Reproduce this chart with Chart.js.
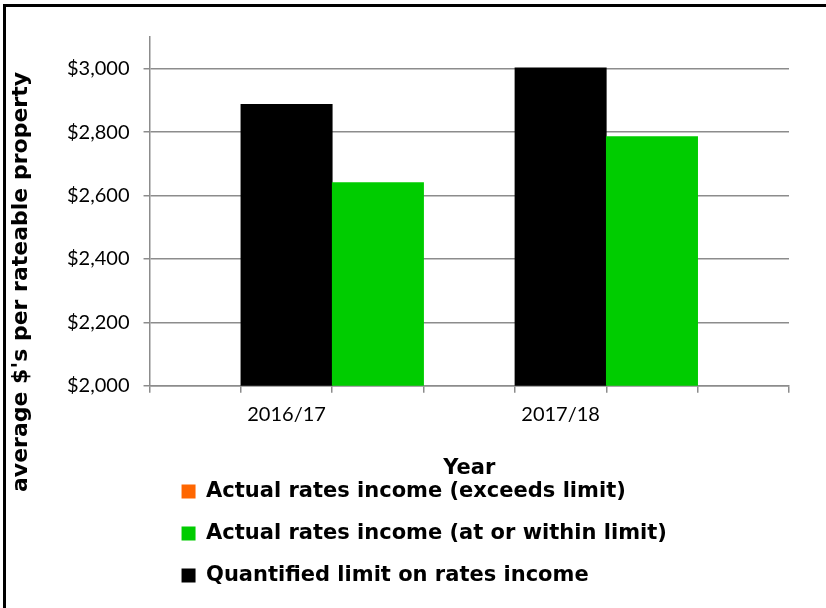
<!DOCTYPE html>
<html>
<head>
<meta charset="utf-8">
<script src="https://cdn.jsdelivr.net/npm/chart.js@4"></script>
<style>
    html, body { margin: 0; padding: 0; background: #fff; }
    #wrap { position: relative; width: 826px; height: 608px; overflow: hidden; }
    #frame { position: absolute; left: 3px; top: 4px; right: -10px; bottom: -10px; border-left: 3px solid #000; border-top: 3px solid #000; pointer-events: none; }
</style>
</head>
<body>
<div id="wrap">
    <canvas id="myChart" width="826" height="608"></canvas>
    <div id="frame"></div>
</div>
<script>
    const years = ['2016/17', '2017/18']
    const exceedsLimit = [null, null]
    const withinLimit = [2641, 2786]
    const quantifiedLimit = [2888, 3003]
    const yTicks = [2000, 2200, 2400, 2600, 2800, 3000]
    const yTitleText = "average $'s per rateable property"

    // each year takes a slot for the limit bar, one for the actual bar, then a gap slot
    const slotLabels = ['']
    const limitSlots = [null]
    const withinSlots = [null]
    const exceedsSlots = [null]
    years.forEach((year, i) => {
        slotLabels.push(year, '', '')
        limitSlots.push(quantifiedLimit[i], null, null)
        withinSlots.push(null, withinLimit[i], null)
        exceedsSlots.push(null, exceedsLimit[i], null)
    })

    const gridGrey = '#8c8c8c'
    const boldFont = "'DejaVu Sans'"

    const legendShift = {
        id: 'legendShift',
        afterLayout(chart) {
            chart.legend.left += 11
        }
    }

    const yTitle = {
        id: 'yTitle',
        afterDraw(chart) {
            const c = chart.ctx
            c.save()
            c.translate(21, 282)
            c.rotate(-Math.PI / 2)
            c.font = "bold 22px 'DejaVu Sans'"
            c.fillStyle = '#000'
            c.textAlign = 'center'
            c.textBaseline = 'middle'
            c.fillText(yTitleText, 0, 0)
            c.restore()
        }
    }

    const ctx = document.getElementById('myChart').getContext('2d')
    const chart = new Chart(ctx, {
        type: 'bar',
        data: {
            labels: slotLabels,
            datasets: [
                { label: 'Actual rates income (exceeds limit)', data: exceedsSlots, backgroundColor: '#FF6600' },
                { label: 'Actual rates income (at or within limit)', data: withinSlots, backgroundColor: '#00CC00' },
                { label: 'Quantified limit on rates income', data: limitSlots, backgroundColor: '#000000' }
            ]
        },
        options: {
            responsive: false,
            animation: false,
            barPercentage: 1,
            categoryPercentage: 1,
            layout: { padding: { left: 53, right: 37, top: 37, bottom: 12 } },
            scales: {
                x: {
                    stacked: true,
                    offset: true,
                    grid: { offset: true, drawOnChartArea: false, drawTicks: true, tickLength: 7, color: gridGrey, lineWidth: 1.5 },
                    border: { color: gridGrey, width: 1.5 },
                    ticks: { autoSkip: false, maxRotation: 0, padding: 10, color: '#000', font: { family: 'Lato', size: 20 } },
                    title: {
                        display: true,
                        text: 'Year',
                        color: '#000',
                        font: { family: boldFont, size: 21, weight: 'bold' },
                        padding: { top: 19, bottom: -21 }
                    }
                },
                y: {
                    stacked: true,
                    min: 2000,
                    max: 3100,
                    afterBuildTicks: (axis) => {
                        axis.ticks = yTicks.map(v => ({ value: v }))
                    },
                    grid: { color: gridGrey, lineWidth: 1.5, tickLength: 6 },
                    border: { color: gridGrey, width: 1.5 },
                    ticks: {
                        padding: 14,
                        color: '#000',
                        font: { family: 'Lato', size: 20 },
                        callback: (v) => '$' + v.toLocaleString('en-US')
                    }
                }
            },
            plugins: {
                tooltip: { enabled: false },
                legend: {
                    position: 'bottom',
                    align: 'start',
                    fullSize: false,
                    labels: {
                        boxWidth: 14,
                        boxHeight: 14,
                        padding: 21,
                        color: '#000',
                        font: { family: boldFont, size: 21, weight: 'bold' }
                    }
                }
            }
        },
        plugins: [legendShift, yTitle]
    })
</script>
</body>
</html>
